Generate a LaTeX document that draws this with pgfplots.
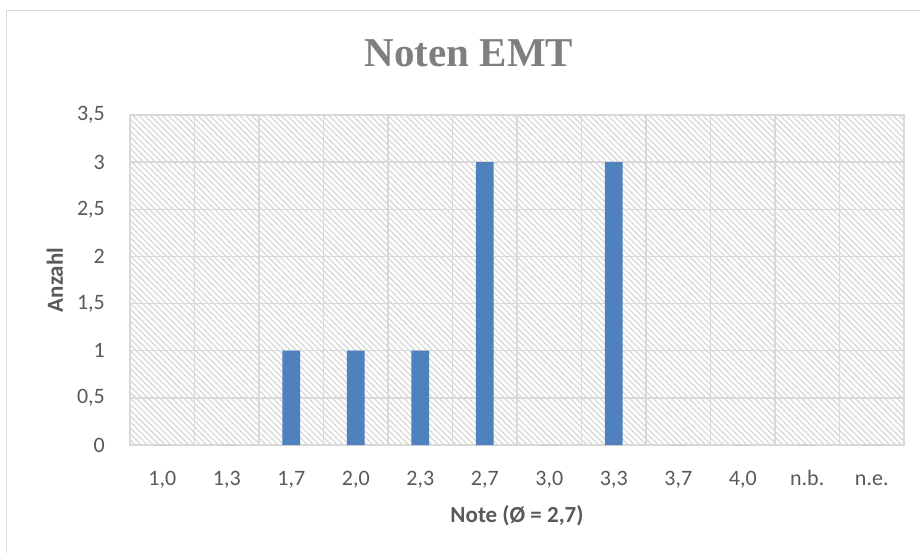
\documentclass[border=0pt]{standalone}
\usepackage{pgfplots}
\pgfplotsset{compat=1.18}
\usepackage{fontspec}
\setmainfont{Carlito}
\newfontfamily\titlefont{Liberation Serif}
\usetikzlibrary{patterns.meta}
\definecolor{barblue}{HTML}{4F81BD}
\definecolor{gridgray}{HTML}{D9D9D9}
\definecolor{hatchgray}{HTML}{DCDCDC}
\definecolor{textgray}{HTML}{595959}
\definecolor{titlegray}{HTML}{7F7F7F}
\begin{document}
\begin{tikzpicture}
\useasboundingbox (0pt,0pt) rectangle (920pt,-553pt);
% chart frame (cut off at the right and bottom)
\draw[gridgray, line width=1.5pt] (6.5pt,-553pt) -- (6.5pt,-10.5pt) -- (920pt,-10.5pt);
\begin{axis}[
    at={(130pt,-445pt)}, anchor=south west,
    scale only axis,
    width=774pt, height=330pt,
    xmin=0, xmax=12,
    ymin=0, ymax=3.5,
    xtick={0.5,1.5,2.5,3.5,4.5,5.5,6.5,7.5,8.5,9.5,10.5,11.5},
    xticklabels={1{,}0,1{,}3,1{,}7,2{,}0,2{,}3,2{,}7,3{,}0,3{,}3,3{,}7,4{,}0,n.b.,n.e.},
    minor xtick={0,1,...,12},
    ytick={0,0.5,...,3.5},
    xminorgrids=true, ymajorgrids=true,
    grid style={gridgray, line width=1.5pt},
    minor grid style={gridgray, line width=1.5pt},
    axis line style={gridgray, line width=1.5pt},
    major tick length=0pt, minor tick length=0pt,
    /pgf/number format/use comma,
    /pgf/number format/assume math mode=true,
    ticklabel style={font=\fontsize{22}{26}\selectfont, text=textgray},
    xticklabel style={anchor=base, yshift=-40pt},
    yticklabel style={anchor=east, inner sep=0pt, xshift=-25pt},
    axis background/.style={pattern={Lines[angle=-45,distance=4.2pt,line width=1.5pt]}, pattern color=hatchgray},
    title={Noten EMT},
    title style={at={(axis description cs:0.438,1.1303)}, anchor=base,
        font=\titlefont\bfseries\fontsize{41}{48}\selectfont, text=titlegray},
    xlabel={Note (Ø = 2,7)},
    xlabel style={at={(axis description cs:0.5,0)}, anchor=base, yshift=-77pt,
        font=\bfseries\fontsize{23}{27}\selectfont, text=textgray},
    ylabel={Anzahl},
    ylabel style={at={(axis description cs:-0.0969,0.5)}, anchor=center,
        font=\bfseries\fontsize{23}{27}\selectfont, text=textgray},
]
\addplot[ybar, bar width=17.7pt, fill=barblue, draw=none] coordinates {
(0.5,0) (1.5,0) (2.5,1) (3.5,1) (4.5,1) (5.5,3)
(6.5,0) (7.5,3) (8.5,0) (9.5,0) (10.5,0) (11.5,0)
};
\end{axis}
\end{tikzpicture}
\end{document}
